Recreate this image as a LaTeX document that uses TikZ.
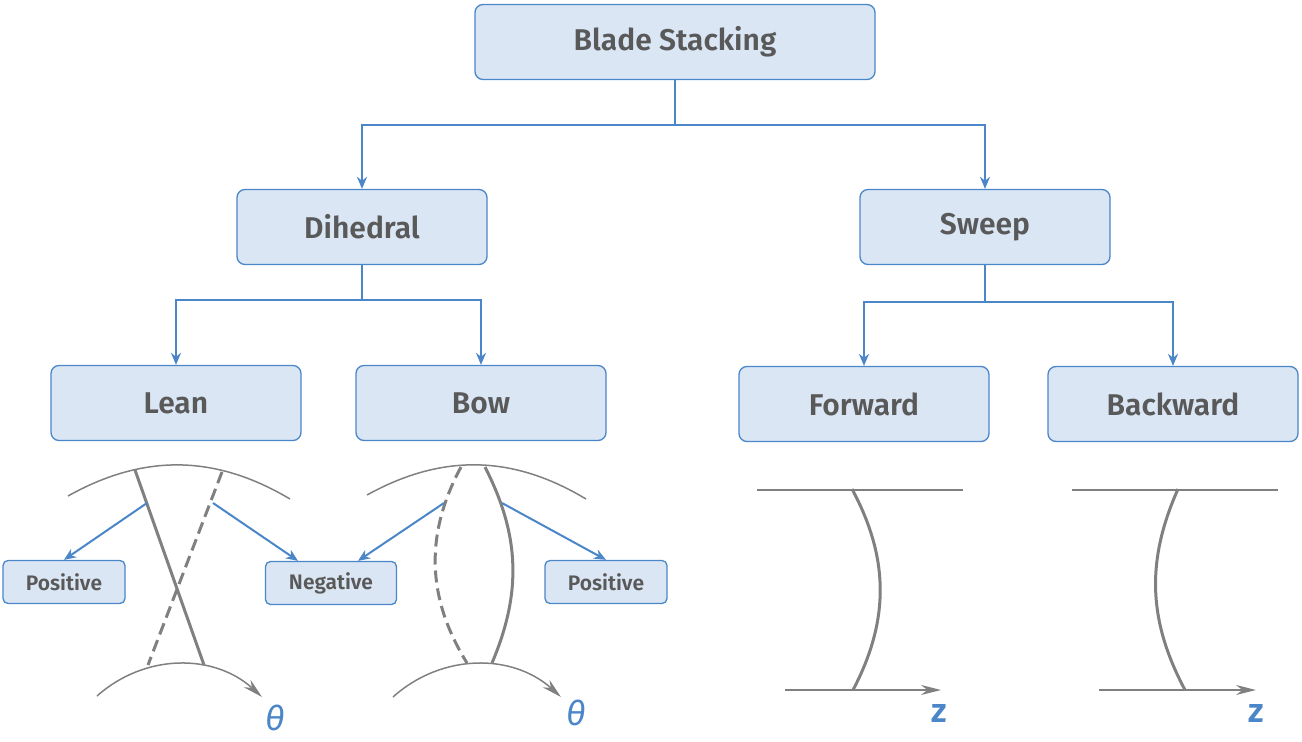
\documentclass[tikz,border=0pt]{standalone}
\usepackage{fontspec}
\setmainfont{Fira Sans}[BoldFont={Fira Sans SemiBold}]
\usetikzlibrary{arrows.meta}
\definecolor{boxfill}{HTML}{DAE6F4}
\definecolor{boxline}{HTML}{4A86C8}
\definecolor{txt}{HTML}{595959}
\definecolor{sketch}{HTML}{808080}
\tikzset{
	box/.style={draw=boxline,fill=boxfill,rounded corners=8pt,line width=1.3pt,
		minimum width=250pt,minimum height=75pt,text=txt,font=\fontsize{30}{32}\selectfont\bfseries},
	small/.style={box,minimum width=122pt,minimum height=43pt,rounded corners=5pt,
		font=\fontsize{21}{23}\selectfont\bfseries},
	link/.style={boxline,line width=2pt,-{Stealth[length=12pt,width=10pt]}},
	blade/.style={sketch,line width=3pt},
	rim/.style={sketch,line width=1.5pt},
	axis/.style={rim,-{Stealth[length=20pt,width=10pt]}},
	lbl/.style={text=boxline,font=\fontsize{34}{36}\selectfont\itshape},
}
\begin{document}
\begin{tikzpicture}[x=1pt,y=-1pt]
	\useasboundingbox (0,0) rectangle (1302,742);
	% tree
	\node[box,minimum width=400pt](root) at(675,42){Blade Stacking};
	\node[box](dihedral) at(362,227){Dihedral};
	\node[box](sweep) at(985,227){Sweep};
	\node[box](lean) at(176,403){Lean};
	\node[box](bow) at(481,403){Bow};
	\node[box](forward) at(864,404){Forward};
	\node[box](backward) at(1173,404){Backward};
	\draw[link](root.south)--++(0,45)-|(dihedral.north);
	\draw[link](root.south)--++(0,45)-|(sweep.north);
	\draw[link](dihedral.south)--++(0,35)-|(lean.north);
	\draw[link](dihedral.south)--++(0,35)-|(bow.north);
	\draw[link](sweep.south)--++(0,37)-|(forward.north);
	\draw[link](sweep.south)--++(0,37)-|(backward.north);
	% lean
	\draw[rim](68,496) to[bend left=30] (290,499);
	\draw[axis](97,696) to[bend left=42] (262,697);
	\draw[blade](135,470)--(204,665);
	\draw[blade,dash pattern=on 12pt off 6pt](222,472)--(148,665);
	\node[lbl](theta1) at(275,718){θ};
	\node[small](leanpos) at(64,582){Positive};
	\node[small,minimum width=131pt](neg) at(331,583){Negative};
	\coordinate(l1) at(147,503);
	\coordinate(l2) at(213,503);
	\draw[link](l1)--(leanpos.north);
	\draw[link](l2)--(neg.north-|298,0);
	% bow
	\draw[rim](367,495) to[bend left=30] (586,499);
	\draw[axis](393,697) to[bend left=42] (561,697);
	\draw[blade](485,467) to[bend left=25] (492,663);
	\draw[blade,dash pattern=on 12pt off 6pt](461,467) to[bend right=30] (467,663);
	\node[lbl](theta2) at(576,713){θ};
	\node[small](bowpos) at(606,582){Positive};
	\coordinate(b1) at(444,503);
	\coordinate(b2) at(502,503);
	\draw[link](b1)--(neg.north-|358,0);
	\draw[link](b2)--(bowpos.north);
	% forward
	\draw[rim](757,490)--(963,490);
	\draw[axis](785,690)--(941,690);
	\draw[blade](852,489) to[bend left=28] (853,690);
	\node[lbl,font=\fontsize{34}{36}\selectfont\bfseries](z1) at(939,713){z};
	% backward
	\draw[rim](1072,490)--(1278,490);
	\draw[axis](1099,690)--(1256,690);
	\draw[blade](1178,489) to[bend right=26] (1185,690);
	\node[lbl,font=\fontsize{34}{36}\selectfont\bfseries](z2) at(1256,713){z};
\end{tikzpicture}
\end{document}
